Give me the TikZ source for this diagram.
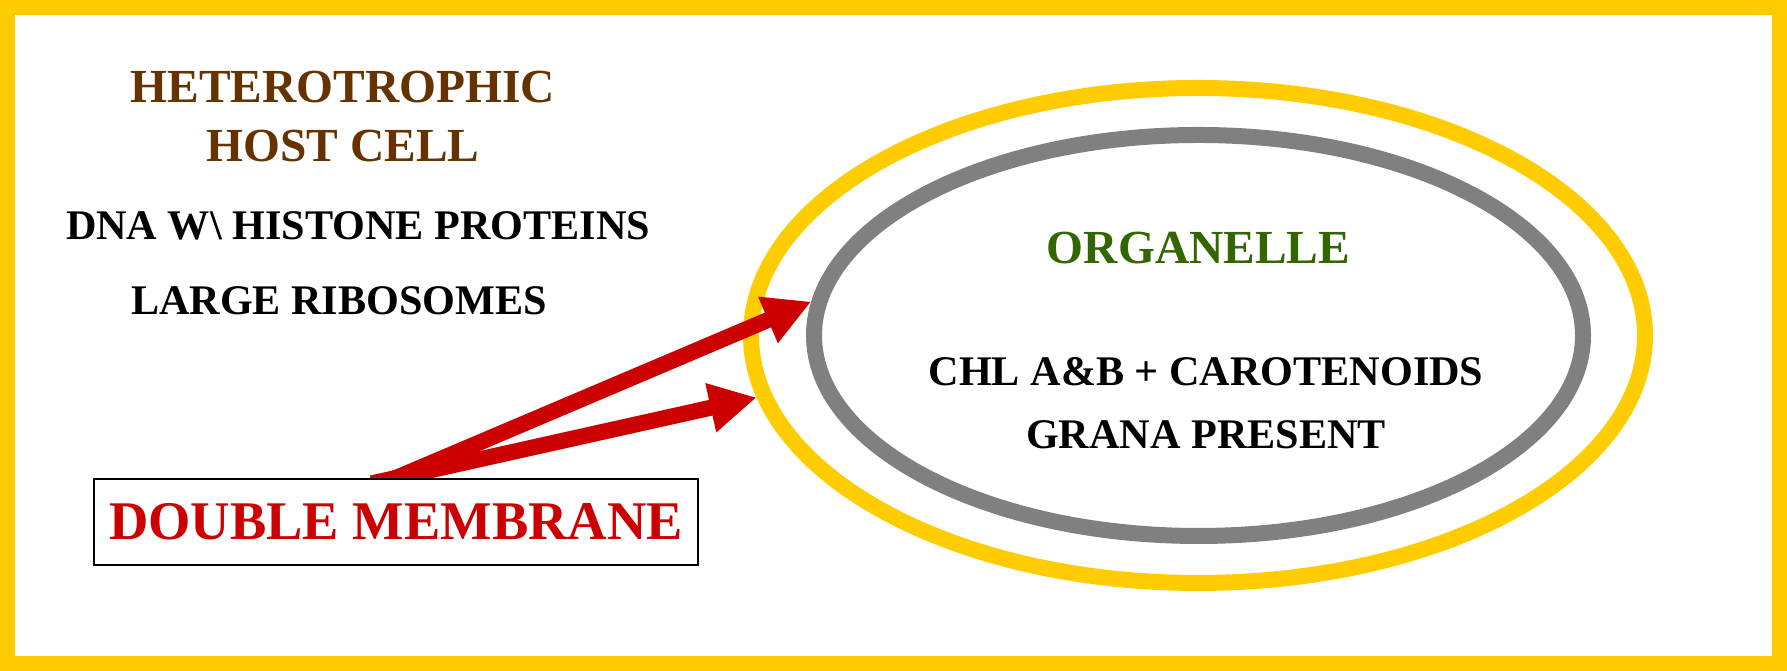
\documentclass[tikz,border=0pt]{standalone}
\usepackage{fontspec}
\setmainfont{Liberation Serif}
\usetikzlibrary{shapes.geometric,arrows.meta}

\definecolor{frameyellow}{HTML}{FFCC00}
\definecolor{membgray}{HTML}{808080}
\definecolor{hostbrown}{HTML}{663300}
\definecolor{orggreen}{HTML}{336600}
\definecolor{memred}{HTML}{CC0000}

\begin{document}
\begin{tikzpicture}
        \useasboundingbox (0,0) rectangle (17.87,6.71);
        \draw[frameyellow,line width=0.15cm] (0.075,0.075) rectangle (17.795,6.635);

        \begin{scope}[every node/.style={ellipse,inner sep=0pt,line width=0.16cm}]
          \node[draw=frameyellow,minimum width=8.94cm,minimum height=4.95cm] (cell)      at (11.98,3.355) {};
          \node[draw=membgray,minimum width=7.69cm,minimum height=4.01cm]    (organelle) at (11.985,3.355) {};
        \end{scope}

        \begin{scope}[every node/.style={anchor=base,font=\bfseries\fontsize{12}{14}\selectfont}]
          \node[text=hostbrown,font=\bfseries\fontsize{13.5}{16}\selectfont] (host1) at (3.43,5.68) {HETEROTROPHIC};
          \node[text=hostbrown,font=\bfseries\fontsize{13.5}{16}\selectfont] (host2) at (3.43,5.09) {HOST CELL};
          \node (dna)  at (3.58,4.31) {DNA W\textbackslash{} HISTONE PROTEINS};
          \node (ribo) at (3.39,3.56) {LARGE RIBOSOMES};
          \node[text=orggreen,font=\bfseries\fontsize{13.5}{16}\selectfont] (org) at (11.985,4.07) {ORGANELLE};
          \node (chl)   at (12.06,2.85) {CHL A\&B + CAROTENOIDS};
          \node (grana) at (12.06,2.22) {GRANA PRESENT};
        \end{scope}

        \node[draw,line width=0.6pt,fill=white,minimum width=6.04cm,minimum height=0.86cm,
              text=memred,font=\bfseries\fontsize{15.5}{18}\selectfont] (membrane) at (3.96,1.49) {DOUBLE MEMBRANE};

        \begin{scope}
          \clip (0,0 |- membrane.north) rectangle (17.87,6.71);
          \begin{scope}[every edge/.style={draw=memred,line width=0.16cm,shorten <=-0.25cm,
                                           -{Triangle[length=0.47cm,width=0.47cm]}}]
            \path (membrane.north) edge (organelle.175);
            \path (membrane.north) edge (cell.188);
          \end{scope}
        \end{scope}

      \end{tikzpicture}
\end{document}
